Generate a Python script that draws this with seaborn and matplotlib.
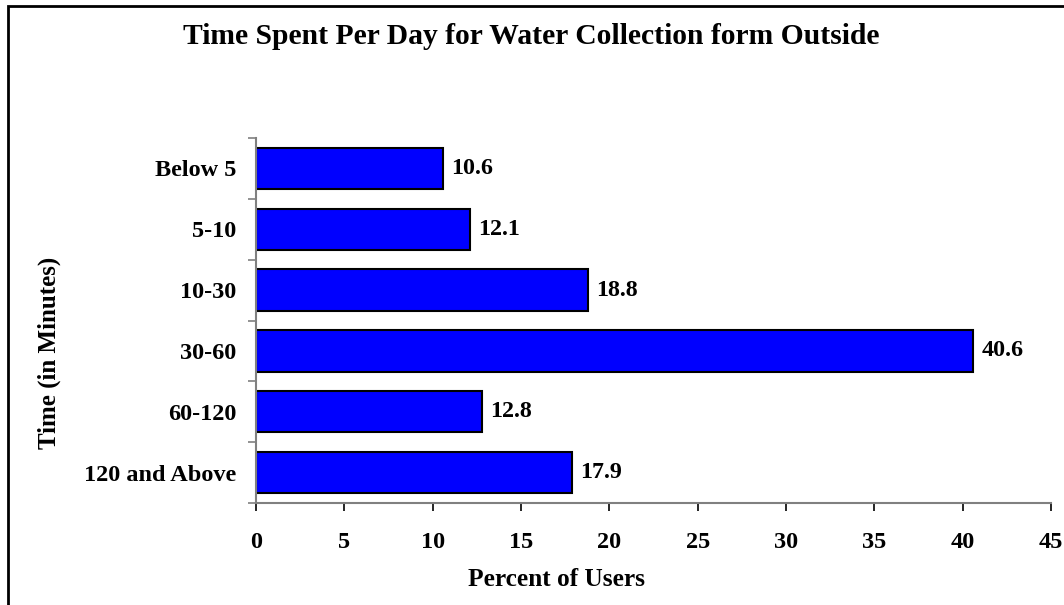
import matplotlib
matplotlib.use("Agg")
import matplotlib.pyplot as plt
import seaborn as sns
import pandas as pd
from matplotlib.patches import Rectangle

categories = ["Below 5", "5-10", "10-30", "30-60", "60-120", "120 and Above"]
values = [10.6, 12.1, 18.8, 40.6, 12.8, 17.9]
xticks = [0, 5, 10, 15, 20, 25, 30, 35, 40, 45]

sns.set_theme(style="white")
plt.rcParams['font.family'] = ['Liberation Serif', 'DejaVu Serif']
plt.rcParams['font.weight'] = 'bold'
plt.rcParams['text.color'] = 'black'
plt.rcParams['xtick.color'] = 'black'
plt.rcParams['ytick.color'] = 'black'
plt.rcParams['axes.labelcolor'] = 'black'

df = pd.DataFrame({"cat": categories, "val": values})

fig = plt.figure(figsize=(10.64, 6.05), dpi=100)
ax = fig.add_axes([256/1064, 1-503/605, (1051-256)/1064, (503-138)/605])

sns.barplot(data=df, x="val", y="cat", orient="h", color="#0000FF",
            edgecolor="black", linewidth=1.5, width=0.68, saturation=1, ax=ax)

for c in ax.containers:
    ax.bar_label(c, labels=[f"{v:.1f}" for v in values], padding=6,
                 fontsize=17.3, fontweight='bold', color='black')

ax.set_xlim(0, 45)
ax.set_ylim(5.5, -0.5)
ax.set_xticks(xticks)
ax.set_xticklabels([str(t) for t in xticks], fontsize=17.5, fontweight='bold', color='black')
ax.set_yticks(range(len(categories)))
ax.set_yticklabels(categories, fontsize=17.5, fontweight='bold', color='black')
ax.set_yticks([i - 0.5 for i in range(len(categories) + 1)], minor=True)
ax.tick_params(axis='y', which='major', length=0, pad=14)
ax.tick_params(axis='y', which='minor', length=6, width=1.2, color='#808080', left=True)
ax.tick_params(axis='x', which='major', length=6, width=1.2, color='black', bottom=True, pad=15)
ax.set_xlabel("")
ax.set_ylabel("")

for s in ["top", "right"]:
    ax.spines[s].set_visible(False)
for s in ["left", "bottom"]:
    ax.spines[s].set_color('#808080')
    ax.spines[s].set_linewidth(1.5)

fig.text(531/1064, 1-37/605, "Time Spent Per Day for Water Collection form Outside",
         ha='center', va='center', fontsize=21.3, fontweight='bold', color='black')
fig.text(556/1064, 1-580/605, "Percent of Users", ha='center', va='center',
         fontsize=18.3, fontweight='bold', color='black')
fig.text(49/1064, 1-353/605, "Time (in Minutes)", ha='center', va='center',
         rotation=90, fontsize=18, fontweight='bold', color='black')

fig.patches.append(Rectangle((7.5/1064, -0.05), 1.2, 1.05 - 6.5/605, transform=fig.transFigure,
                             fill=False, edgecolor='black', linewidth=2))

fig.savefig("out.png", dpi=100)
